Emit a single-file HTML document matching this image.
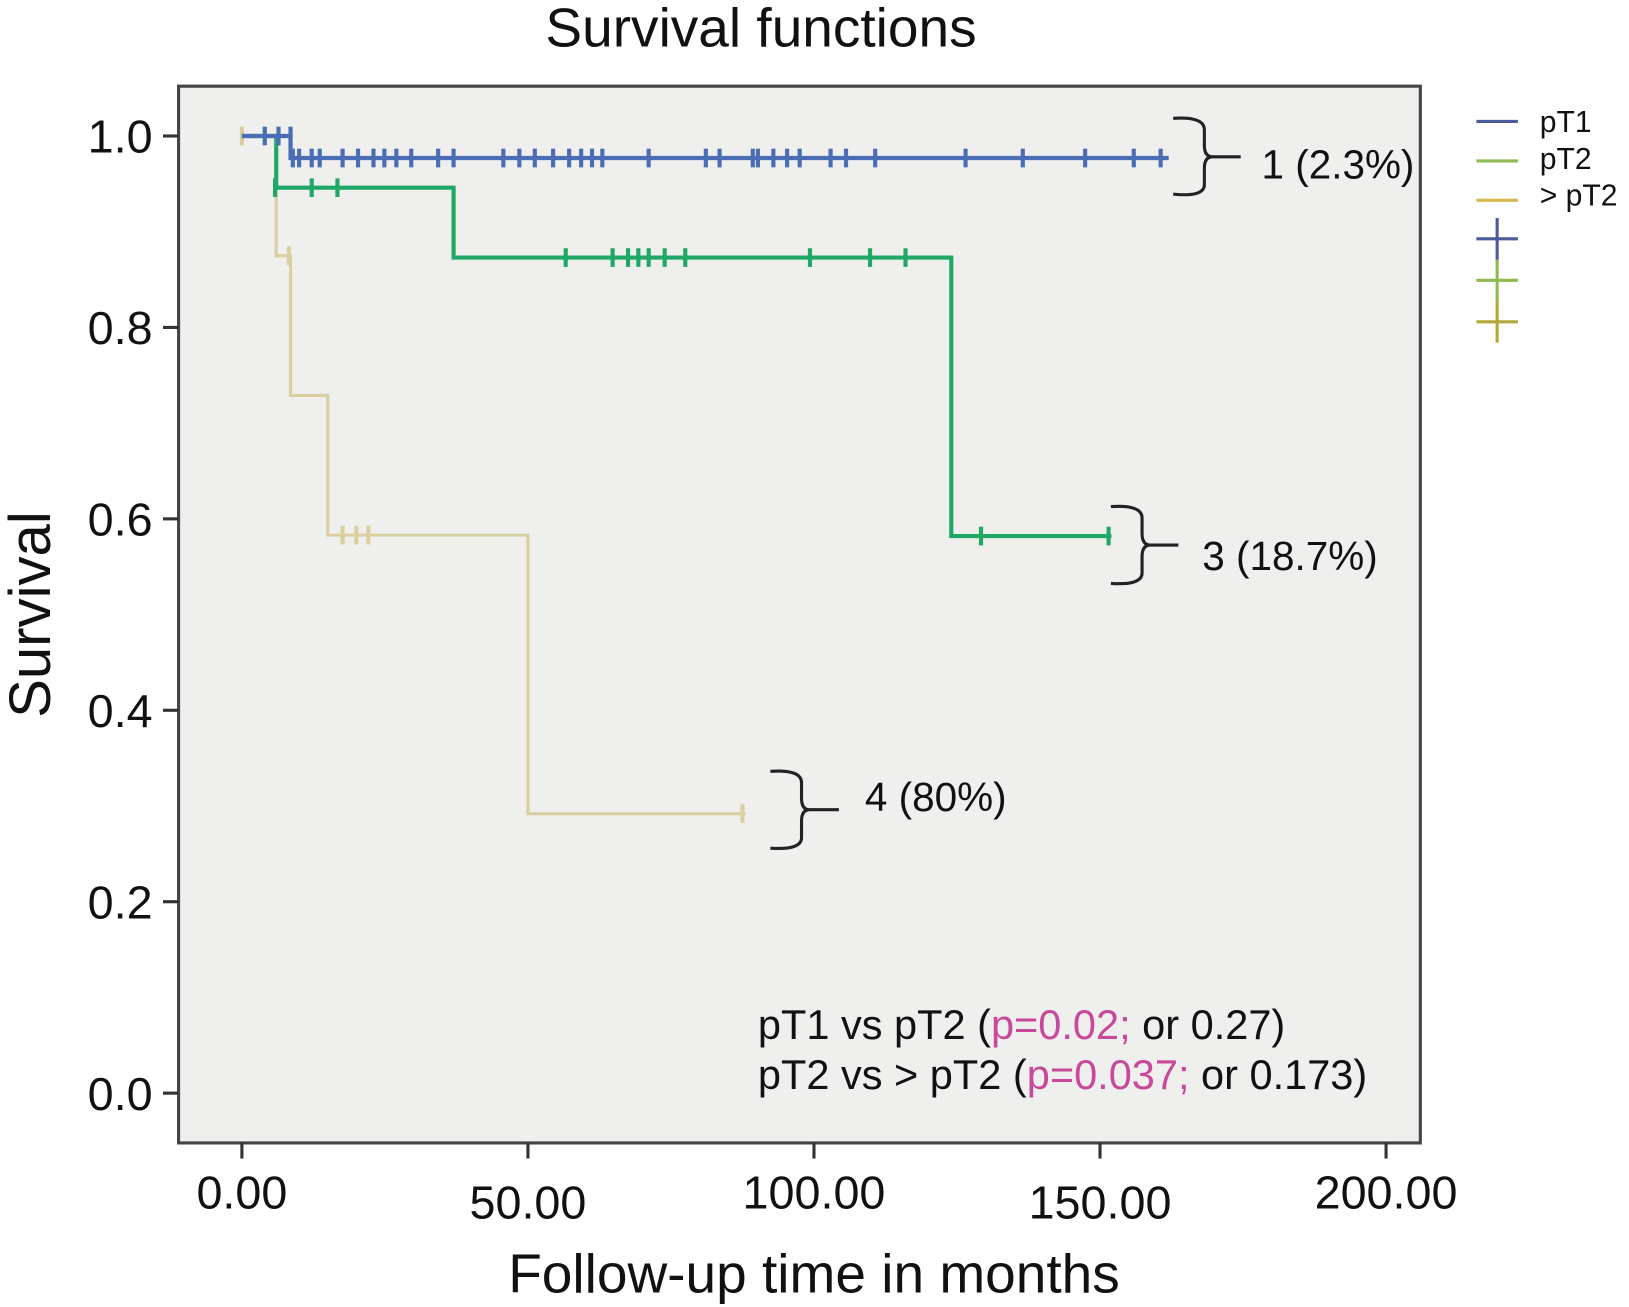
<!DOCTYPE html>
<html><head><meta charset="utf-8"><style>
html,body{margin:0;padding:0;background:#fff;}
svg{display:block;font-family:"Liberation Sans",sans-serif;}
</style></head><body>
<svg id="chart" width="1629" height="1307" viewBox="0 0 1569 1259" preserveAspectRatio="none">
<text x="733" y="45" font-size="53" text-anchor="middle" fill="#111">Survival functions</text>
<rect x="172" y="83" width="1196" height="1018" fill="#efefed" stroke="none"/>
<path d="M172,83 H1368 V1101 H172 Z" fill="none" stroke="#444" stroke-width="3"/>
<g id="axes"></g>
<g id="series"></g>
<text transform="translate(48,592) rotate(-90)" font-size="56" text-anchor="middle" fill="#111">Survival</text>
<text x="784" y="1245" font-size="53" text-anchor="middle" fill="#111">Follow-up time in months</text>
<g fill="none" stroke="#222" stroke-width="3">
<path d="M1130,114 Q1160,112 1160,125 V140 Q1160,151 1168,151 H1195 M1168,151 Q1160,151 1160,162 V178 Q1160,190 1130,187"/>
<path d="M1070,488 Q1100,486 1100,499 V514 Q1100,525 1108,525 H1135 M1108,525 Q1100,525 1100,536 V552 Q1100,564 1070,562"/>
<path d="M742,743 Q772,741 772,754 V769 Q772,780 780,780 H808 M780,780 Q772,780 772,791 V807 Q772,819 742,817"/>
</g>
<g font-size="39" fill="#111">
<text x="1215" y="172">1 (2.3%)</text>
<text x="1158" y="549">3 (18.7%)</text>
<text x="833" y="781">4 (80%)</text>
</g>
<g font-size="40" fill="#111">
<text x="730" y="1001">pT1 vs pT2 (<tspan fill="#c8489a">p=0.02;</tspan> or 0.27)</text>
<text x="730" y="1049">pT2 vs &gt; pT2 (<tspan fill="#c8489a">p=0.037;</tspan> or 0.173)</text>
</g>
<g>
<line x1="1422" y1="117" x2="1462" y2="117" stroke="#4b5a98" stroke-width="3"/>
<line x1="1422" y1="155" x2="1462" y2="155" stroke="#8dbb4f" stroke-width="3"/>
<line x1="1422" y1="193" x2="1462" y2="193" stroke="#d6b84a" stroke-width="3"/>
<text x="1483" y="127" font-size="29" fill="#111">pT1</text>
<text x="1483" y="163" font-size="29" fill="#111">pT2</text>
<text x="1483" y="198" font-size="29" fill="#111">&gt; pT2</text>
<path d="M1422,230 H1462 M1442,210 V250" stroke="#4b5a98" stroke-width="3"/>
<path d="M1422,270 H1462 M1442,250 V290" stroke="#8dbb4f" stroke-width="3"/>
<path d="M1422,310 H1462 M1442,290 V330" stroke="#b5a83a" stroke-width="3"/>
</g>
</svg>
<script>
const xTicks=[0,50,100,150,200];
const xTickLabels=["0.00","50.00","100.00","150.00","200.00"];
const yTicks=[0,0.2,0.4,0.6,0.8,1.0];
const yTickLabels=["0.0","0.2","0.4","0.6","0.8","1.0"];
const pt1Times=[0,8.5,162];
const pt1Surv=[1.0,0.977,0.977];
const pt1CensorT=[4,6.4,8.5,8.9,10,12.2,13.6,17.6,20.3,23,24.9,27,29.6,34.3,37,45.7,48.5,51.2,54.4,57.2,59.3,61.2,63,71.1,81.1,83.5,89.3,90.2,92.9,95.3,97.5,102.9,105.6,110.7,126.5,136.5,147.4,155.9,160.6];
const pt1CensorS=[1,1,1,0.977,0.977,0.977,0.977,0.977,0.977,0.977,0.977,0.977,0.977,0.977,0.977,0.977,0.977,0.977,0.977,0.977,0.977,0.977,0.977,0.977,0.977,0.977,0.977,0.977,0.977,0.977,0.977,0.977,0.977,0.977,0.977,0.977,0.977,0.977,0.977];
const pt2Times=[0,6,37,124,152];
const pt2Surv=[1.0,0.946,0.873,0.582,0.582];
const pt2CensorT=[5.8,12.2,16.7,56.6,64.8,67.5,69.3,71.1,73.9,77.5,99.3,109.8,116,129.2,151.5];
const pt2CensorS=[0.946,0.946,0.946,0.873,0.873,0.873,0.873,0.873,0.873,0.873,0.873,0.873,0.873,0.582,0.582];
const gtTimes=[0,6,8.5,15,50,88];
const gtSurv=[1.0,0.875,0.729,0.583,0.292,0.292];
const gtCensorT=[0,8.2,17.6,20,22.1,87.5];
const gtCensorS=[1,0.875,0.583,0.583,0.583,0.292];

const NS="http://www.w3.org/2000/svg";
const X=t=>233+t*5.51;
const Y=s=>1053-s*922;
const axes=document.getElementById('axes');
const series=document.getElementById('series');
function mk(tag,attrs,parent){const e=document.createElementNS(NS,tag);for(const k in attrs)e.setAttribute(k,attrs[k]);parent.appendChild(e);return e;}
xTicks.forEach((t,i)=>{
  const l=mk('line',{x1:X(t),x2:X(t),y1:1101,y2:1116,stroke:'#333','stroke-width':3},axes);
  
  
  const tx=mk('text',{x:X(t),y:i%2?1174:1164,'font-size':45,'text-anchor':'middle',fill:'#111'},axes);
  
  
  tx.textContent=xTickLabels[i];
});
yTicks.forEach((s,i)=>{
  const l=mk('line',{x1:157,x2:172,y1:Y(s),y2:Y(s),stroke:'#333','stroke-width':3},axes);
  
  
  const tx=mk('text',{x:147,y:Y(s)+16,'font-size':45,'text-anchor':'end',fill:'#111'},axes);
  
  
  tx.textContent=yTickLabels[i];
});
function drawSeries(name,times,surv,ct,cs,color,w){
  let d='M'+X(times[0])+','+Y(surv[0]);
  for(let i=1;i<times.length;i++){d+=' H'+X(times[i])+' V'+Y(surv[i]);}
  const p=mk('path',{d:d,fill:'none',stroke:color,'stroke-width':w},series);
  
  
  ct.forEach((t,i)=>{
    const c=mk('path',{d:'M'+X(t)+','+(Y(cs[i])-9)+' V'+(Y(cs[i])+9),stroke:color,'stroke-width':4},series);
    
    
  });
}
drawSeries('gt-pt2',gtTimes,gtSurv,gtCensorT,gtCensorS,'#d9cf9f',3);
drawSeries('pt2',pt2Times,pt2Surv,pt2CensorT,pt2CensorS,'#1fa866',4);
drawSeries('pt1',pt1Times,pt1Surv,pt1CensorT,pt1CensorS,'#4a6db5',4);
</script>
</body></html>
